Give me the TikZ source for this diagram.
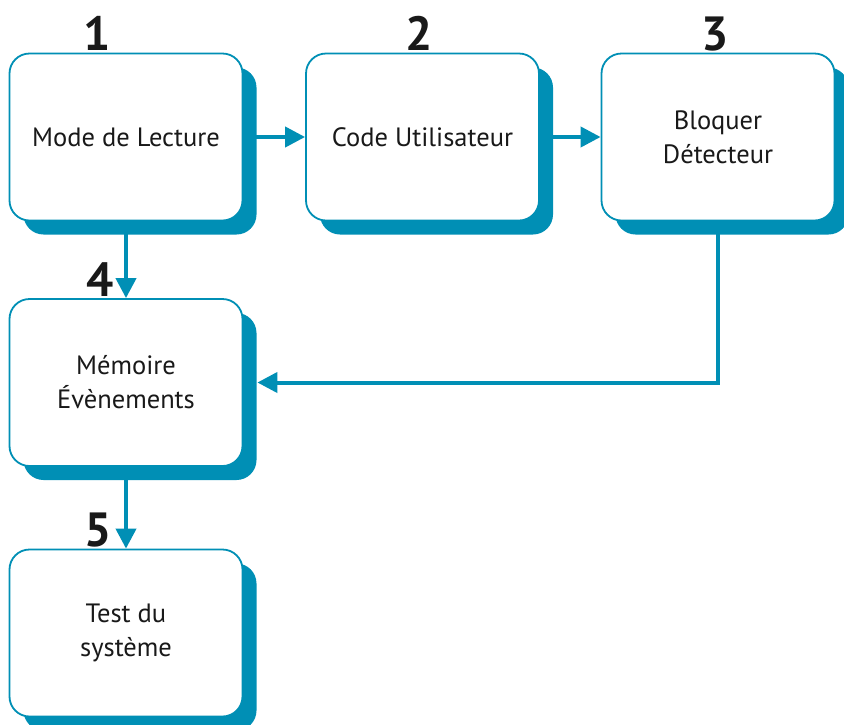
\documentclass[tikz,border=0pt]{standalone}
\usepackage{fontspec}
\setmainfont{PT Sans}
\usetikzlibrary{shadows,arrows.meta}
\definecolor{tblue}{RGB}{0,143,181}
\definecolor{ttext}{RGB}{25,25,25}
\tikzset{
  stepbox/.style={draw=tblue, line width=1.8pt, fill=white, rounded corners=20pt,
    minimum width=233pt, minimum height=167pt, inner sep=0pt, align=center,
    text=ttext, font=\fontsize{26.5}{34}\selectfont,
    drop shadow={shadow xshift=14pt, shadow yshift=-14pt, fill=tblue, opacity=1}},
  numlabel/.style={anchor=base, text=ttext, font=\bfseries\fontsize{48}{48}\selectfont, inner sep=0pt},
  conn/.style={draw=tblue, line width=4pt, -{Triangle[length=20pt,width=20pt]}}
}
\begin{document}
\begin{tikzpicture}[x=1pt,y=-1pt]
\useasboundingbox (0,0) rectangle (844,724);
\clip (0,0) rectangle (844,724);
\node[stepbox] (b1) at (126,137) {Mode de Lecture};
\node[stepbox] (b2) at (422.5,137) {Code Utilisateur};
\node[stepbox] (b3) at (718,137) {Bloquer\\Détecteur};
\node[stepbox] (b4) at (126,382.5) {Mémoire\\Évènements};
\node[stepbox] (b5) at (126,633) {Test du\\système};
\node[numlabel] (n1) at (97,50) {1};
\node[numlabel] (n2) at (419,50) {2};
\node[numlabel] (n3) at (715,50) {3};
\node[numlabel] (n4) at (100,296) {4};
\node[numlabel] (n5) at (98,546) {5};
\coordinate (c3) at (718,382.5);
\draw[conn] (b1.east) -- (b2.west);
\draw[conn] (b2.east) -- (b3.west);
\draw[conn] (b1.south) -- (b4.north);
\draw[conn] (b4.south) -- (b5.north);
\draw[conn] (b3.south) -- (c3) -- ([xshift=14pt]b4.east);
\end{tikzpicture}
\end{document}
